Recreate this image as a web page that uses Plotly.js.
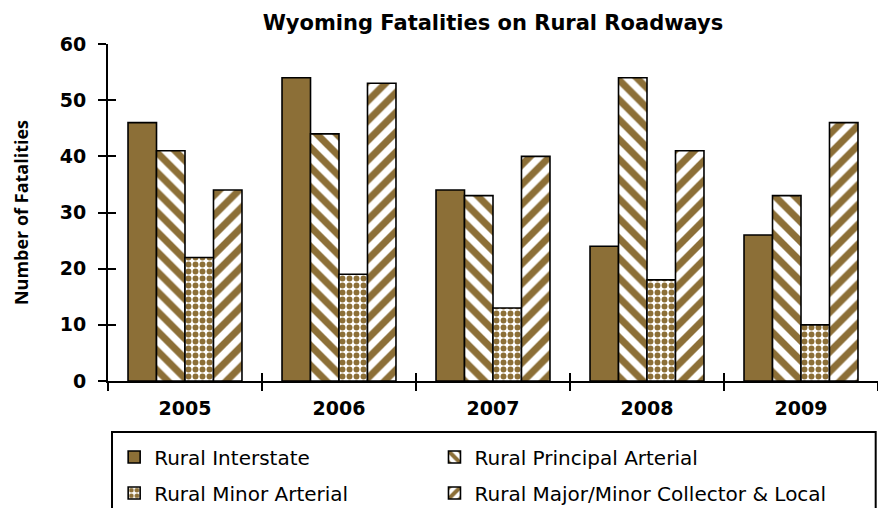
<!DOCTYPE html>
<html>
<head>
<meta charset="utf-8">
<script src="https://cdn.plot.ly/plotly-3.0.1.min.js"></script>
<style>html,body{margin:0;padding:0;background:#fff;}#chart{width:878px;height:508px;}</style>
</head>
<body>
<div id="chart"></div>
<script>
const years = ['2005', '2006', '2007', '2008', '2009'];
const seriesNames = ['Rural Interstate', 'Rural Principal Arterial', 'Rural Minor Arterial', 'Rural Major/Minor Collector & Local'];
const ruralInterstate = [46, 54, 34, 24, 26];
const ruralPrincipalArterial = [41, 44, 33, 54, 33];
const ruralMinorArterial = [22, 19, 13, 18, 10];
const ruralCollectorLocal = [34, 53, 40, 41, 46];
const yTicks = [0, 10, 20, 30, 40, 50, 60];

const brown = '#8C6F37';
const boldFam = '"DejaVu Sans", sans-serif';
const textFam = '"Open Sans", sans-serif';
const values = [ruralInterstate, ruralPrincipalArterial, ruralMinorArterial, ruralCollectorLocal];
const patterns = [
  null,
  {shape: '\\', fgcolor: brown, bgcolor: '#ffffff', size: 14, solidity: 0.5},
  {shape: '.', fgcolor: brown, bgcolor: '#ffffff', size: 7, solidity: 0.55},
  {shape: '/', fgcolor: brown, bgcolor: '#ffffff', size: 14, solidity: 0.5}
];
const legendIds = ['legend', 'legend2', 'legend3', 'legend4'];

const traces = values.map((v, i) => {
  const t = {
    type: 'bar', name: seriesNames[i], x: years, y: v, legend: legendIds[i],
    marker: {color: brown, line: {color: '#000', width: 1.6}},
    hoverinfo: 'x+y+name'
  };
  if (patterns[i]) t.marker.pattern = patterns[i];
  return t;
});
// invisible helper trace so the overlay axes carry the same categories (for crossing tick marks)
traces.push({type: 'scatter', mode: 'markers', x: years, y: ruralInterstate, xaxis: 'x2', yaxis: 'y2',
  marker: {opacity: 0}, showlegend: false, hoverinfo: 'skip'});

const legendFont = {family: boldFam, size: 20, weight: 400, color: '#000'};
function legendAt(x, y) {
  return {x: x, y: y, xanchor: 'left', yanchor: 'middle', xref: 'paper', yref: 'paper',
    bgcolor: 'rgba(0,0,0,0)', borderwidth: 0, font: legendFont, itemclick: false, itemdoubleclick: false};
}

const layout = {
  width: 878, height: 508,
  margin: {l: 108, r: 0, t: 44, b: 127, autoexpand: false},
  paper_bgcolor: '#fff', plot_bgcolor: '#fff',
  font: {family: textFam, color: '#000'},
  title: {text: 'Wyoming Fatalities on Rural Roadways', font: {family: boldFam, size: 21, weight: 700, color: '#000'},
    x: 0.5, xref: 'paper', xanchor: 'center', y: 0.955, yref: 'container', yanchor: 'middle'},
  barmode: 'group', bargap: 0.26, bargroupgap: 0,
  xaxis: {type: 'category', showline: true, linecolor: '#000', linewidth: 2,
    ticks: 'outside', tickson: 'boundaries', ticklen: 8, tickwidth: 2, tickcolor: '#000',
    tickfont: {family: boldFam, size: 19, weight: 700, color: '#000'}, ticklabelstandoff: 9,
    showgrid: false, zeroline: false, range: [-0.5, 4.5], automargin: false},
  yaxis: {range: [0, 60], tickvals: yTicks, showline: true, linecolor: '#000', linewidth: 2,
    ticks: 'outside', ticklen: 8, tickwidth: 2, tickcolor: '#000',
    tickfont: {family: boldFam, size: 19, weight: 700, color: '#000'}, ticklabelstandoff: 8,
    showgrid: false, zeroline: false, automargin: false,
    title: {text: 'Number of Fatalities', font: {family: textFam, size: 18, weight: 700, color: '#000'}, standoff: 26}},
  xaxis2: {type: 'category', overlaying: 'x', anchor: 'y2', range: [-0.5, 4.5], showline: false,
    ticks: 'inside', tickson: 'boundaries', ticklen: 8, tickwidth: 2, tickcolor: '#000',
    showticklabels: false, showgrid: false, zeroline: false},
  yaxis2: {overlaying: 'y', range: [0, 60], tickvals: yTicks, showline: false,
    ticks: 'inside', ticklen: 8, tickwidth: 2, tickcolor: '#000',
    showticklabels: false, showgrid: false, zeroline: false},
  showlegend: true,
  legend: legendAt(0.008, -0.2255),
  legend2: legendAt(0.424, -0.2255),
  legend3: legendAt(0.008, -0.3323),
  legend4: legendAt(0.424, -0.3323),
  shapes: [{type: 'rect', xref: 'paper', yref: 'paper', x0: 0.0052, x1: 0.997, y0: -0.1513, y1: -0.39,
    line: {color: '#000', width: 2}, fillcolor: 'rgba(0,0,0,0)', layer: 'below'}]
};

Plotly.newPlot('chart', traces, layout, {displayModeBar: false, staticPlot: true});
</script>
</body>
</html>
